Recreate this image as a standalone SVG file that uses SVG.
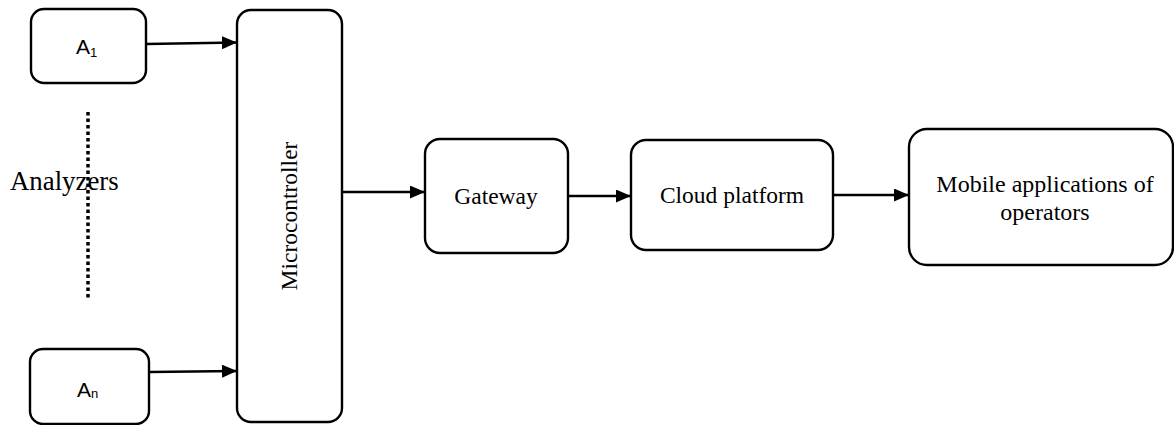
<svg xmlns="http://www.w3.org/2000/svg" width="1174" height="425" viewBox="0 0 1174 425">
<style>
.box{fill:#fff;stroke:#000;stroke-width:2.4}
.edge{stroke:#000;stroke-width:2.4;fill:none}
.serif{font-family:"Liberation Serif","Times New Roman",serif;font-size:23.5px;fill:#000}
.sans{font-family:"Liberation Sans",Arial,sans-serif;font-size:21px;fill:#000}
</style>
<defs>
<marker id="arr" markerWidth="15" markerHeight="13" refX="15" refY="6.5" orient="auto" markerUnits="userSpaceOnUse">
<path d="M0,0 L15,6.5 L0,13 Z" fill="#000"/>
</marker>
</defs>
<rect width="1174" height="425" fill="#fff"/>
<g id="a1">
<rect class="box" x="31" y="9" width="115" height="74" rx="13"/>
<text class="sans" x="76" y="54">A<tspan font-size="13" dy="3">1</tspan></text>
</g>
<g id="an">
<rect class="box" x="30" y="349" width="119" height="75" rx="13"/>
<text class="sans" x="77" y="397">A<tspan font-size="13" dy="1">n</tspan></text>
</g>
<g id="analyzers">
<line x1="88" y1="112" x2="88" y2="298" stroke="#000" stroke-width="3.5" stroke-dasharray="3.5 3"/>
<text class="serif" x="10" y="190" style="font-size:26.8px">Analyzers</text>
</g>
<g id="microcontroller">
<rect class="box" x="237" y="10" width="105" height="412" rx="14"/>
<text class="serif" transform="translate(297,216) rotate(-90)" text-anchor="middle">Microcontroller</text>
</g>
<g id="gateway">
<rect class="box" x="425" y="139" width="143" height="114" rx="15"/>
<text class="serif" x="496" y="204" text-anchor="middle">Gateway</text>
</g>
<g id="cloud">
<rect class="box" x="631" y="140" width="202" height="110" rx="15"/>
<text class="serif" x="732" y="203" text-anchor="middle">Cloud platform</text>
</g>
<g id="mobile">
<rect class="box" x="909" y="129" width="264" height="136" rx="18"/>
<text class="serif" x="1045" y="192" text-anchor="middle" style="font-size:24px">Mobile applications of</text>
<text class="serif" x="1045" y="220" text-anchor="middle" style="font-size:24px">operators</text>
</g>
<g id="connectors">
<line class="edge" x1="146" y1="44" x2="237" y2="42.5" marker-end="url(#arr)"/>
<line class="edge" x1="149" y1="372" x2="237" y2="371" marker-end="url(#arr)"/>
<line class="edge" x1="342" y1="192" x2="425" y2="192" marker-end="url(#arr)"/>
<line class="edge" x1="568" y1="196" x2="631" y2="196" marker-end="url(#arr)"/>
<line class="edge" x1="833" y1="195" x2="909" y2="195" marker-end="url(#arr)"/>
</g>
</svg>
